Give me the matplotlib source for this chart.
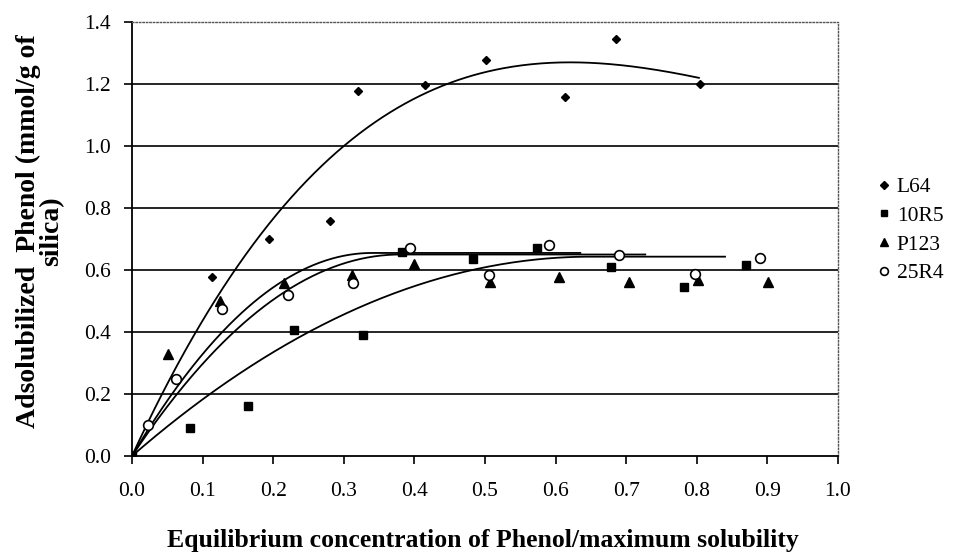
import numpy as np
import matplotlib
matplotlib.use("Agg")
import matplotlib.pyplot as plt

plt.rcParams['font.family'] = ['Liberation Serif', 'DejaVu Serif']

# ---- data ----
l64_x = [0.0, 0.113, 0.194, 0.281, 0.320, 0.415, 0.501, 0.614, 0.686, 0.804]
l64_y = [0.0, 0.577, 0.701, 0.758, 1.178, 1.197, 1.277, 1.159, 1.344, 1.199]

r10r5_x = [0.0, 0.082, 0.165, 0.229, 0.327, 0.382, 0.483, 0.574, 0.678, 0.782, 0.870]
r10r5_y = [0.0, 0.090, 0.162, 0.405, 0.389, 0.659, 0.637, 0.672, 0.610, 0.546, 0.616]

p123_x = [0.0, 0.051, 0.125, 0.216, 0.312, 0.400, 0.507, 0.605, 0.704, 0.802, 0.901]
p123_y = [0.0, 0.329, 0.499, 0.557, 0.584, 0.620, 0.560, 0.576, 0.560, 0.568, 0.560]

r25r4_x = [0.022, 0.062, 0.128, 0.221, 0.313, 0.394, 0.506, 0.590, 0.690, 0.798, 0.889]
r25r4_y = [0.100, 0.250, 0.473, 0.519, 0.559, 0.670, 0.584, 0.681, 0.648, 0.587, 0.638]

# trend lines
l64_trend_coef = [2.235, -6.071, 4.953, 0.0]   # cubic, highest power first
l64_trend_end = 0.803
# saturating trend lines: plateau value, x where plateau is reached, x end
p123_trend = [0.655, 0.34, 0.635]
r25r4_trend = [0.650, 0.38, 0.727]
r10r5_trend = [0.643, 0.65, 0.840]

series_names = ["L64", "10R5", "P123", "25R4"]
x_ticks = [0.0, 0.1, 0.2, 0.3, 0.4, 0.5, 0.6, 0.7, 0.8, 0.9, 1.0]
y_ticks = [0.0, 0.2, 0.4, 0.6, 0.8, 1.0, 1.2, 1.4]
x_label = "Equilibrium concentration of Phenol/maximum solubility"
y_label = "Adsolubilized  Phenol (mmol/g of\nsilica)"

# ---- figure ----
fig = plt.figure(figsize=(9.58, 5.56), dpi=100)
ax = fig.add_axes([132/958, 1-456/556, (838-132)/958, (456-22)/556])

# gridlines
for yv in y_ticks[1:-1]:
    ax.axhline(yv, color='black', lw=1.2, zorder=1)

def sat_curve(params):
    ym, xv, xe = params
    xs = np.linspace(0, xe, 300)
    t = np.clip(xs / xv, 0, 1)
    return xs, ym * (1 - (1 - t) ** 2)

xs = np.linspace(0, l64_trend_end, 300)
ax.plot(xs, np.polyval(l64_trend_coef, xs), color='black', lw=1.3, zorder=2)
for p in (p123_trend, r25r4_trend, r10r5_trend):
    cx, cy = sat_curve(p)
    ax.plot(cx, cy, color='black', lw=1.3, zorder=2)

h1, = ax.plot(l64_x, l64_y, 'D', color='black', ms=4.5, ls='none', label=series_names[0], zorder=3)
h2, = ax.plot(r10r5_x, r10r5_y, 's', color='black', ms=5.5, ls='none', label=series_names[1], zorder=3)
h3, = ax.plot(p123_x, p123_y, '^', color='black', ms=6.5, ls='none', label=series_names[2], zorder=3)
h4, = ax.plot(r25r4_x, r25r4_y, 'o', mfc='white', mec='black', mew=1.2, ms=7, ls='none', label=series_names[3], zorder=4)

ax.set_xlim(0, 1.0)
ax.set_ylim(0, 1.4)
ax.set_xticks(x_ticks)
ax.set_yticks(y_ticks)
ax.set_xticklabels([f"{v:.1f}" for v in x_ticks])
ax.set_yticklabels([f"{v:.1f}" for v in y_ticks])
ax.tick_params(axis='both', direction='out', length=6, width=1.2, labelsize=15.5, colors='black')
ax.tick_params(axis='y', pad=9)
ax.tick_params(axis='x', pad=13)

for s in ('left', 'bottom'):
    ax.spines[s].set_linewidth(1.3)
    ax.spines[s].set_color('black')
for s in ('top', 'right'):
    ax.spines[s].set_linestyle((0, (1, 1.5)))
    ax.spines[s].set_linewidth(1.0)
    ax.spines[s].set_color('#555555')

fig.text(483/958, 1-541/556, x_label, ha='center', va='center', fontsize=18.5, fontweight='bold')
fig.text(40/958, 1-231/556, y_label, ha='center', va='center', rotation=90,
         multialignment='center', fontsize=20, fontweight='bold', linespacing=0.95)

leg = ax.legend(handles=[h1, h2, h3, h4], loc='center left', bbox_to_anchor=(1.045, 0.52),
                frameon=False, fontsize=15.5, handlelength=0.5, handletextpad=0.35,
                labelspacing=0.4, markerscale=0.8, borderaxespad=0)

fig.savefig("out.png", dpi=100)
